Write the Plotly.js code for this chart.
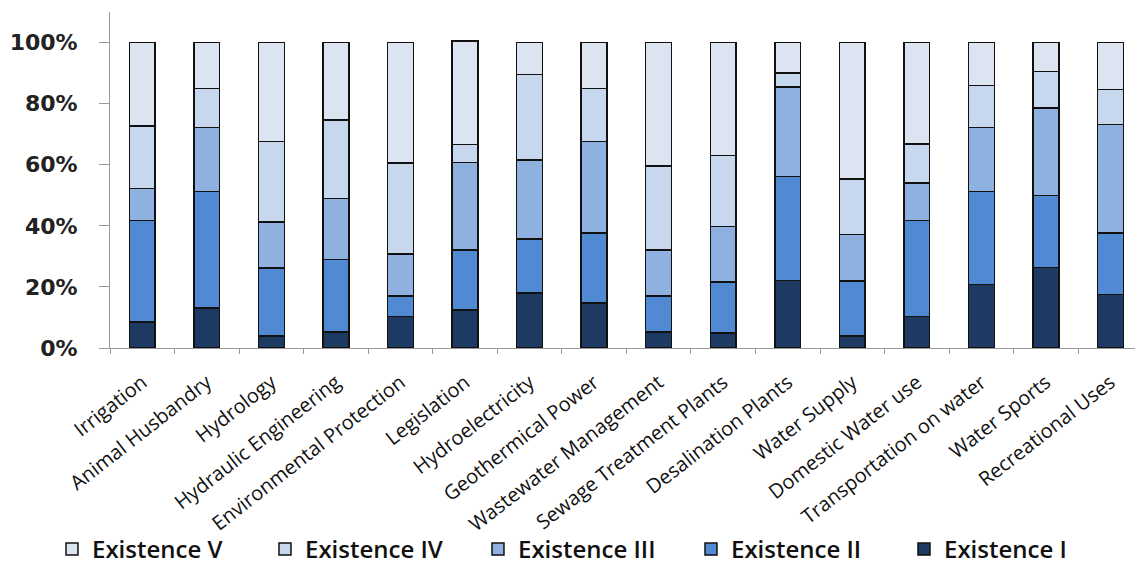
<!DOCTYPE html>
<html>
<head>
<meta charset="utf-8">
<script src="https://cdn.plot.ly/plotly-3.0.1.min.js"></script>
<style>html,body{margin:0;padding:0;background:#fff;overflow:hidden}#chart{width:1135px;height:572px}</style>
</head>
<body>
<div id="chart"></div>
<script>
var categories = ["Irrigation","Animal Husbandry","Hydrology","Hydraulic Engineering","Environmental Protection","Legislation","Hydroelectricity","Geothermical Power","Wastewater Management","Sewage Treatment Plants","Desalination Plants","Water Supply","Domestic Water use","Transportation on water","Water Sports","Recreational Uses"];
var existenceI   = [8.5, 13.1, 4.0, 5.3, 10.3, 12.5, 18.0, 14.8, 5.2, 4.9, 22.1, 3.9, 10.3, 20.8, 26.3, 17.5];
var existenceII  = [33.2, 38.1, 22.2, 23.6, 6.8, 19.6, 17.7, 22.8, 11.9, 16.7, 34.0, 18.1, 31.4, 30.4, 23.6, 20.1];
var existenceIII = [10.5, 21.0, 15.1, 20.0, 13.6, 28.7, 25.9, 30.0, 15.0, 18.1, 29.3, 15.1, 12.3, 21.0, 28.7, 35.6];
var existenceIV  = [20.4, 12.8, 26.3, 25.7, 29.8, 5.9, 27.9, 17.4, 27.5, 23.4, 4.7, 18.2, 12.8, 13.7, 11.9, 11.4];
var existenceV   = [27.4, 15.0, 32.4, 25.4, 39.5, 33.8, 10.5, 15.0, 40.4, 36.9, 9.9, 44.7, 33.2, 14.1, 9.5, 15.4];
var seriesNames = ["Existence I","Existence II","Existence III","Existence IV","Existence V"];
var yTickVals = [0, 0.2, 0.4, 0.6, 0.8, 1.0];
var yTickText = ["0%","20%","40%","60%","80%","100%"];

var seriesData = [existenceI, existenceII, existenceIII, existenceIV, existenceV];
var colors = ["#1d3a63", "#5189d2", "#8eb1e0", "#c6d7ee", "#dce4f1"];

var traces = seriesData.map(function(vals, i){
  return {
    type: "bar",
    name: seriesNames[i],
    x: categories,
    y: vals.map(function(v){ return v/100; }),
    width: 0.4,
    marker: {color: colors[i], line: {color: "#111", width: 1.5}},
    hoverinfo: "skip"
  };
});

var layout = {
  width: 1135, height: 572,
  margin: {l: 110, r: 0, t: 12, b: 224, pad: 0},
  barmode: "stack",
  paper_bgcolor: "#fff", plot_bgcolor: "#fff",
  showlegend: true,
  legend: {
    orientation: "h", traceorder: "reversed",
    x: -0.0566, xanchor: "left", y: -0.6, yanchor: "middle",
    bgcolor: "rgba(0,0,0,0)",
    entrywidth: 168, entrywidthmode: "pixels",
    font: {family: "Open Sans, sans-serif", size: 24, color: "#111", weight: 600},
    itemwidth: 30
  },
  xaxis: {
    type: "category",
    range: [-0.5, 15.38],
    showgrid: false, zeroline: false,
    showline: true, linecolor: "#999", linewidth: 1,
    ticks: "outside", tickson: "boundaries", ticklen: 5, tickcolor: "#999",
    tickangle: -38,
    ticklabelshift: 0, ticklabelstandoff: 14,
    tickfont: {family: "Open Sans, sans-serif", size: 20, color: "#111"},
    fixedrange: true
  },
  yaxis: {
    range: [0, 1.1],
    tickvals: yTickVals, ticktext: yTickText,
    showgrid: false, zeroline: false,
    showline: true, linecolor: "#999", linewidth: 1,
    ticks: "outside", ticklen: 10, tickcolor: "#999",
    ticklabelstandoff: 17,
    tickfont: {family: "DejaVu Sans, sans-serif", size: 22, color: "#222", weight: "bold"},
    fixedrange: true
  }
};

Plotly.newPlot("chart", traces, layout, {displayModeBar: false, staticPlot: true});
</script>
</body>
</html>
